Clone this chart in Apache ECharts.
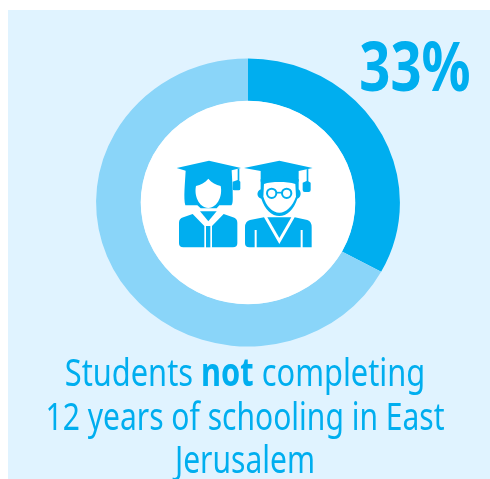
<!DOCTYPE html>
<html><head><meta charset="utf-8">
<style>html,body{margin:0;padding:0;background:#fff}#c{width:490px;height:479px}</style>
<script src="https://cdn.jsdelivr.net/npm/echarts@6/dist/echarts.min.js"></script>
</head><body><div id="c"></div>
<script>
const sliceNames = ['Not completing','Completing'];
const sliceValues = [33,67];
const headline = '33%';
const captionLines = ['{n|Students }{b|not}{n| completing}','{n|12 years of schooling in East}','{n|Jerusalem}'];
const captionY = [374.5,419,461.5];
const captionScale = [.79,.77,.77];
const blue='#00AEEF', pale='#8AD5F9', panel='#E0F3FF';
const fam='"Noto Sans","Open Sans"';
const chart = echarts.init(document.getElementById('c'),null,{renderer:'canvas'});
// icon is drawn in a 510x360 space and scaled by 1/3
const iconShapes=[
 {d:'M50 84 L147 62 L243 84 L215 91 L218 150 C218 175 220 190 214 196 L178 196 L170 205 L122 205 L112 196 L76 196 C70 175 75 130 77 92 Z',f:blue},
 {d:'M145 116 C135 128 122 134 108 138 C102 165 115 202 145 204 C175 202 188 165 182 138 C168 134 155 128 145 116 Z',f:'#fff'},
 {d:'M233 86 L238 86 L238 122 L241 125 L241 146 Q241 151 236 151 L223 151 Q218 151 218 146 L218 125 L233 120 Z',f:blue},
 {d:'M57 248 Q57 236 70 232 L98 222 L133 258 L133 322 L70 322 Q57 322 57 310 Z',f:blue},
 {d:'M232 248 Q232 236 219 232 L191 222 L156 258 L156 322 L219 322 Q232 322 232 310 Z',f:blue},
 {d:'M120 214 L170 214 L145 244 Z',f:blue},
 {d:'M138 258 L151 258 L151 322 L138 322 Z',f:blue},
 {d:'M252 84 L358 62 L458 84 L416 93 L416 125 C390 112 330 112 302 125 L302 93 Z',f:blue},
 {d:'M440 88 L445 87 L445 124 L452 128 L452 150 Q452 156 446 156 L434 156 Q428 156 428 150 L428 128 L440 123 Z',f:blue},
 {d:'M302 118 C330 106 390 106 416 118 L416 148 C425 155 424 172 412 176 C402 208 380 228 358 228 C336 228 314 208 304 176 C290 172 288 155 302 148 Z',f:blue},
 {d:'M312 132 C335 124 380 124 406 132 L408 170 C398 198 378 218 358 218 C338 218 318 198 310 170 Z',f:'#fff'},
 {d:'M255 262 Q255 244 270 240 L312 232 L358 312 L404 232 L442 240 Q455 244 455 262 L455 322 L428 322 L428 270 L422 270 L422 322 L290 322 L290 270 L284 270 L284 322 L268 322 Q255 322 255 310 Z',f:blue},
 {d:'M322 232 L394 232 L358 294 Z',f:blue}
];
const graphicEls=[
 {type:'rect',z:-1,shape:{x:8,y:10,width:482,height:469},style:{fill:panel}},
 {type:'text',x:415,y:72,scaleX:.8,z:10,style:{text:headline,fill:blue,font:'bold 68px '+fam,textAlign:'center',textVerticalAlign:'middle'}}
].concat(captionLines.map((t,i)=>({type:'text',x:245,y:captionY[i],scaleX:captionScale[i],z:10,
   style:{text:t,textAlign:'center',textVerticalAlign:'middle',
   rich:{n:{fill:blue,font:'39px '+fam},b:{fill:blue,font:'bold 39px '+fam}}}})));
const total=sliceValues.reduce((a,b)=>a+b,0);
chart.setOption({
 animation:false,backgroundColor:'#fff',
 graphic:graphicEls,
 series:[
  {type:'custom',name:'Donut',coordinateSystem:'none',silent:true,z:2,
   data:sliceNames.map((n,i)=>({name:n,value:sliceValues[i]})),
   renderItem:(params,api)=>{
     const i=params.dataIndex;
     const before=sliceValues.slice(0,i).reduce((a,b)=>a+b,0);
     const a0=-Math.PI/2+before/total*2*Math.PI;
     const a1=a0+api.value(0)/total*2*Math.PI;
     return {type:'sector',x:248,y:202.5,scaleX:1.055,
       shape:{cx:0,cy:0,r:144,r0:101.5,startAngle:a0,endAngle:a1,clockwise:true},
       style:{fill:i?pale:blue}};
   }},
  {type:'custom',coordinateSystem:'none',silent:true,z:5,data:[0],
   renderItem:()=>({type:'group',children:[
     {type:'circle',x:248,y:202.5,scaleX:1.055,shape:{cx:0,cy:0,r:101.7},style:{fill:'#fff'}},
     {type:'group',x:160,y:140,scaleX:1/3,scaleY:1/3,children:iconShapes.map(s=>({
       type:'path',shape:{pathData:s.d},style:{fill:s.f}})).concat([
       {type:'circle',shape:{cx:335,cy:160,r:14},style:{fill:'#fff',stroke:blue,lineWidth:6}},
       {type:'circle',shape:{cx:380,cy:160,r:14},style:{fill:'#fff',stroke:blue,lineWidth:6}},
       {type:'line',shape:{x1:349,y1:158,x2:366,y2:158},style:{stroke:blue,lineWidth:5}}
     ])}
   ]})}
 ]
});
</script></body></html>
